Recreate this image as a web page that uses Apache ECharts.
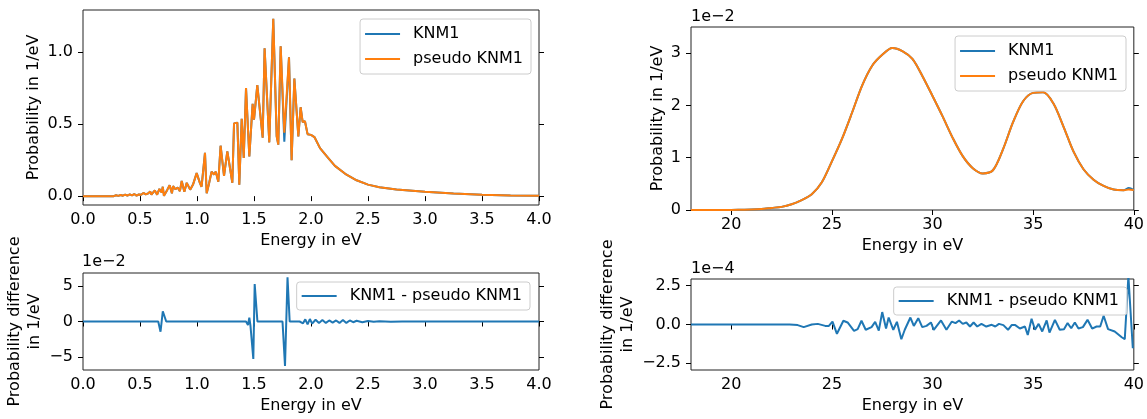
<!DOCTYPE html>
<html>
<head>
<meta charset="utf-8">
<script src="https://cdn.jsdelivr.net/npm/echarts@6/dist/echarts.min.js"></script>
<style>
  html, body { margin: 0; padding: 0; background: #fff; }
  #chart { width: 1147px; height: 419px; }
</style>
</head>
<body>
<div id="chart"></div>
<script>
// ---- Energy-loss function, 0-4 eV (probability in 1/eV) ----
const lowEnergy = [
  0.00, 0.10, 0.20, 0.27, 0.29, 0.31, 0.33, 0.35, 0.37, 0.39, 0.41, 0.43, 0.45, 0.47, 0.49,
  0.51, 0.53, 0.55, 0.57, 0.59, 0.60, 0.63, 0.65, 0.67, 0.69, 0.70, 0.71, 0.74, 0.76, 0.78,
  0.79, 0.81, 0.83, 0.85, 0.866, 0.889, 0.91, 0.94, 0.965, 0.997, 1.026, 1.04, 1.055, 1.07,
  1.085, 1.105, 1.128, 1.149, 1.165, 1.187, 1.207, 1.237, 1.266, 1.31, 1.325, 1.354, 1.371,
  1.392, 1.41, 1.43, 1.459, 1.488, 1.50, 1.529, 1.576, 1.593, 1.634, 1.669, 1.699, 1.713,
  1.734, 1.766, 1.807, 1.83, 1.854, 1.889, 1.909, 1.927, 1.947, 1.97, 2.00, 2.03, 2.079,
  2.15, 2.21, 2.30, 2.40, 2.50, 2.60, 2.75, 3.00, 3.25, 3.50, 3.75, 4.00
];
const lowKnm1 = [
  0, 0, 0, 0, 0.006, 0.002, 0.008, 0.003, 0.010, 0.004, 0.012, 0.005, 0.015, 0.003, 0.012,
  0.010, 0.022, 0.012, 0.018, 0.032, 0.010, 0.040, 0.010, 0.050, 0.025, 0.065, 0.002, 0.045, 0.075, 0.020,
  0.070, 0.048, 0.060, 0.035, 0.105, 0.030, 0.092, 0.045, 0.080, 0.160, 0.090, 0.065, 0.075, 0.300,
  0.020, 0.085, 0.170, 0.150, 0.170, 0.100, 0.350, 0.140, 0.310, 0.093, 0.505, 0.510, 0.080,
  0.536, 0.265, 0.750, 0.275, 0.640, 0.530, 0.770, 0.405, 1.026, 0.373, 1.230, 0.415, 0.357,
  1.040, 0.377, 0.963, 0.250, 0.816, 0.415, 0.617, 0.513, 0.520, 0.430, 0.425, 0.410, 0.333,
  0.265, 0.210, 0.155, 0.110, 0.080, 0.062, 0.046, 0.030, 0.018, 0.010, 0.005, 0.003
];
const lowPseudo = [
  0, 0, 0, 0, 0.006, 0.002, 0.008, 0.003, 0.010, 0.004, 0.012, 0.005, 0.015, 0.003, 0.012,
  0.010, 0.022, 0.012, 0.018, 0.032, 0.010, 0.040, 0.010, 0.050, 0.025, 0.065, 0.002, 0.045, 0.075, 0.020,
  0.070, 0.048, 0.060, 0.035, 0.105, 0.030, 0.092, 0.045, 0.080, 0.160, 0.090, 0.065, 0.075, 0.300,
  0.020, 0.085, 0.170, 0.150, 0.170, 0.100, 0.350, 0.140, 0.310, 0.093, 0.505, 0.510, 0.080,
  0.536, 0.265, 0.750, 0.275, 0.640, 0.530, 0.770, 0.405, 1.026, 0.373, 1.230, 0.415, 0.357,
  1.040, 0.440, 0.963, 0.250, 0.816, 0.415, 0.617, 0.513, 0.520, 0.430, 0.425, 0.410, 0.333,
  0.265, 0.210, 0.155, 0.110, 0.080, 0.062, 0.046, 0.030, 0.018, 0.010, 0.005, 0.003
];

// ---- Energy-loss function, 18-40 eV ----
const highEnergy = [
  18, 18.5, 19, 19.5, 20, 20.5, 21, 21.5, 22, 22.5, 23, 23.5, 24, 24.5, 25, 25.5, 26, 26.5,
  27, 27.5, 28, 28.5, 29, 29.5, 30, 30.5, 31, 31.5, 32, 32.5, 33, 33.5, 34, 34.5, 35, 35.5,
  36, 36.5, 37, 37.5, 38, 38.5, 39, 39.5, 39.75, 40
];
const highKnm1 = [
  0, 0, 0, 0, 0, 0.00005, 0.0001, 0.0002, 0.0004, 0.0006, 0.0011, 0.0019, 0.0030, 0.0053,
  0.0093, 0.0136, 0.0186, 0.0238, 0.0276, 0.0297, 0.0310, 0.0304, 0.0289, 0.0256, 0.0218,
  0.0179, 0.0138, 0.0103, 0.0080, 0.0070, 0.0076, 0.0116, 0.0168, 0.0208, 0.0224, 0.0225,
  0.0204, 0.0160, 0.0112, 0.0078, 0.0058, 0.0046, 0.0039, 0.0038, 0.0042, 0.0038
];
const highPseudo = [
  0, 0, 0, 0, 0, 0.00005, 0.0001, 0.0002, 0.0004, 0.0006, 0.0011, 0.0019, 0.0030, 0.0053,
  0.0093, 0.0136, 0.0186, 0.0238, 0.0276, 0.0297, 0.0310, 0.0304, 0.0289, 0.0256, 0.0218,
  0.0179, 0.0138, 0.0103, 0.0080, 0.0070, 0.0076, 0.0116, 0.0168, 0.0208, 0.0224, 0.0225,
  0.0204, 0.0160, 0.0112, 0.0078, 0.0058, 0.0046, 0.0039, 0.0038, 0.0039, 0.0038
];

// ---- KNM1 - pseudo KNM1, 0-4 eV ----
const lowDiffEnergy = [
  0, 0.66, 0.68, 0.70, 0.73, 1.43, 1.447, 1.459, 1.469, 1.494, 1.506, 1.53, 1.75, 1.772, 1.794,
  1.813, 1.90, 1.93, 1.95, 1.97, 1.99, 2.01, 2.04, 2.07, 2.10, 2.13, 2.16, 2.19, 2.22, 2.25,
  2.28, 2.31, 2.34, 2.37, 2.40, 2.45, 2.50, 2.55, 2.60, 2.70, 2.80, 4.00
];
const lowDiff = [
  0, 0, -0.0145, 0.0145, 0, 0, -0.005, 0.0055, -0.006, -0.053, 0.053, 0, 0, -0.063, 0.0625,
  0, 0, -0.0025, 0.003, -0.004, 0.0035, -0.003, 0.0025, -0.002, 0.002, -0.002, 0.0015, -0.0015, 0.0015, -0.002,
  0.002, -0.002, 0.0015, -0.001, 0.001, -0.001, 0.0008, -0.0005, 0.0005, -0.0003, 0, 0
];

// ---- KNM1 - pseudo KNM1, 18-40 eV ----
const highDiffEnergy = [
  18, 22.9, 23.3, 23.6, 24.0, 24.3, 24.67, 24.85, 25.03, 25.25, 25.57, 25.78, 26.1, 26.28, 26.47,
  26.68, 26.97, 27.15, 27.33, 27.5, 27.69, 27.82, 28.05, 28.23, 28.45, 28.62, 28.9, 29.07, 29.29,
  29.49, 29.7, 29.92, 30.06, 30.42, 30.69, 30.96, 31.14, 31.32, 31.5, 31.68, 31.86, 32.04, 32.22,
  32.43, 32.67, 32.94, 33.12, 33.3, 33.52, 33.75, 33.93, 34.11, 34.34, 34.59, 34.73, 34.92, 35.09,
  35.27, 35.45, 35.67, 35.81, 36.08, 36.32, 36.53, 36.71, 36.89, 37.07, 37.25, 37.47, 37.7, 37.93,
  38.15, 38.33, 38.5, 38.72, 39.05, 39.4, 39.55, 39.73, 39.95
];
const highDiff = [
  0, 0, -0.04e-4, -0.17e-4, 0, 0.04e-4, -0.09e-4, -0.09e-4, 0.19e-4, -0.6e-4, 0.24e-4, 0.13e-4, -0.41e-4, -0.3e-4, 0.24e-4,
  -0.34e-4, -0.17e-4, 0.17e-4, -0.39e-4, 0.8e-4, -0.26e-4, 0.45e-4, -0.34e-4, 0.17e-4, -0.95e-4, -0.34e-4, 0.45e-4, -0.09e-4, 0.41e-4,
  -0.17e-4, -0.09e-4, 0.13e-4, -0.34e-4, 0.26e-4, -0.34e-4, 0.19e-4, 0.09e-4, 0.26e-4, 0.04e-4, 0.13e-4, -0.13e-4, 0.13e-4, -0.13e-4,
  0.04e-4, -0.13e-4, -0.02e-4, -0.13e-4, 0.04e-4, -0.04e-4, -0.34e-4, -0.04e-4, -0.04e-4, -0.26e-4, -0.13e-4, -0.67e-4, 0.37e-4, -0.34e-4,
  0.04e-4, -0.45e-4, 0.26e-4, -0.52e-4, 0.3e-4, -0.34e-4, -0.3e-4, 0.09e-4, -0.24e-4, 0.13e-4, -0.26e-4, -0.17e-4, 0.3e-4, -0.26e-4,
  -0.13e-4, -0.13e-4, 0.56e-4, -0.3e-4, -0.45e-4, -0.82e-4, -0.95e-4, 3.1e-4, -1.53e-4
];

// Tick positions
const lowEnergyTicks = [0, 0.5, 1.0, 1.5, 2.0, 2.5, 3.0, 3.5, 4.0];
const highEnergyTicks = [20, 25, 30, 35, 40];
const lowProbTicks = [0, 0.5, 1.0];
const highProbTicks = [0, 0.01, 0.02, 0.03];
const lowDiffTicks = [-0.05, 0, 0.05];
const highDiffTicks = [-2.5e-4, 0, 2.5e-4];

const FONT = 'DejaVu Sans';
const BLUE = '#1f77b4';
const ORANGE = '#ff7f0e';
const MINUS = '\u2212';

const zip = (xs, ys) => xs.map((x, i) => [x, ys[i]]);
const signed = s => s.replace('-', MINUS);

const labelStyle = { color: '#000', fontSize: 16, fontFamily: FONT };

function xAxisFor(grid, min, max, ticks, fmt) {
  return {
    type: 'value', gridIndex: grid, min: min, max: max,
    name: 'Energy in eV', nameLocation: 'middle', nameGap: 28,
    nameTextStyle: labelStyle,
    axisLine: { show: false },
    axisTick: { show: true, inside: false, length: 5, customValues: ticks, lineStyle: { color: '#000', width: 1 } },
    axisLabel: Object.assign({ margin: 7, customValues: ticks, formatter: fmt }, labelStyle),
    splitLine: { show: false }
  };
}

function yAxisFor(grid, min, max, ticks, fmt, name, nameGap, lineHeight) {
  return {
    type: 'value', gridIndex: grid, min: min, max: max, position: 'left',
    name: name, nameLocation: 'middle', nameGap: nameGap,
    nameTextStyle: Object.assign({ lineHeight: lineHeight, align: 'center' }, labelStyle),
    axisLine: { show: false },
    axisTick: { show: true, inside: false, length: 5, customValues: ticks, lineStyle: { color: '#000', width: 1 } },
    axisLabel: Object.assign({ margin: 10, customValues: ticks, formatter: fmt }, labelStyle),
    splitLine: { show: false }
  };
}

function rightTicksFor(grid, min, max, ticks) {
  return {
    type: 'value', gridIndex: grid, min: min, max: max, position: 'right',
    axisLine: { show: false },
    axisTick: { show: true, inside: false, length: 5, customValues: ticks, lineStyle: { color: '#000', width: 1 } },
    axisLabel: { show: false },
    splitLine: { show: false }
  };
}

function legendFor(names, right, top) {
  return {
    data: names, orient: 'vertical', right: right, top: top,
    icon: 'rect', itemWidth: 35, itemHeight: 2, itemGap: 7,
    padding: [6, 8, 6, 5],
    backgroundColor: 'rgba(255,255,255,0.8)',
    borderColor: '#cccccc', borderWidth: 1, borderRadius: 3,
    textStyle: { color: '#000', fontSize: 16, fontFamily: FONT, lineHeight: 18, padding: [0, 0, 0, 8] }
  };
}

function line(name, x, y, data, color, z) {
  return {
    type: 'line', name: name, xAxisIndex: x, yAxisIndex: y, data: data,
    showSymbol: false, symbol: 'none', clip: true, z: z,
    lineStyle: { color: color, width: 2 }, itemStyle: { color: color }
  };
}

const gridBox = { show: true, borderColor: '#222', borderWidth: 1, backgroundColor: 'transparent' };

const option = {
  animation: false,
  backgroundColor: '#fff',
  grid: [
    Object.assign({ left: 83, top: 10, width: 456, height: 195 }, gridBox),
    Object.assign({ left: 691, top: 27, width: 443, height: 183 }, gridBox),
    Object.assign({ left: 83, top: 273, width: 456, height: 97 }, gridBox),
    Object.assign({ left: 691, top: 279, width: 443, height: 91 }, gridBox)
  ],
  xAxis: [
    xAxisFor(0, 0, 4, lowEnergyTicks, v => v.toFixed(1)),
    xAxisFor(1, 18, 40, highEnergyTicks, v => String(v)),
    xAxisFor(2, 0, 4, lowEnergyTicks, v => v.toFixed(1)),
    xAxisFor(3, 18, 40, highEnergyTicks, v => String(v))
  ],
  yAxis: [
    yAxisFor(0, -0.0615, 1.2915, lowProbTicks, v => v.toFixed(1), 'Probability in 1/eV', 40, 18),
    rightTicksFor(0, -0.0615, 1.2915, lowProbTicks),
    yAxisFor(1, 0, 0.035, highProbTicks, v => String(Math.round(v * 100)), 'Probability in 1/eV', 23, 18),
    rightTicksFor(1, 0, 0.035, highProbTicks),
    yAxisFor(2, -0.0686, 0.0686, lowDiffTicks, v => signed(String(Math.round(v * 100))), 'Probability difference\nin 1/eV', 33, 20.4),
    rightTicksFor(2, -0.0686, 0.0686, lowDiffTicks),
    yAxisFor(3, -2.93e-4, 2.93e-4, highDiffTicks, v => signed((v * 1e4).toFixed(1)), 'Probability difference\nin 1/eV', 47, 20.4),
    rightTicksFor(3, -2.93e-4, 2.93e-4, highDiffTicks)
  ],
  legend: [
    legendFor(['KNM1', 'pseudo KNM1'], 616, 19),
    legendFor(['KNM1', 'pseudo KNM1'], 21, 36),
    Object.assign(legendFor(['KNM1 - pseudo KNM1'], 617, 282), { padding: [5, 8, 5, 5] }),
    Object.assign(legendFor(['KNM1 - pseudo KNM1'], 20, 287), { padding: [5, 8, 5, 5] })
  ],
  graphic: [
    { type: 'text', left: 691, top: 9, style: { text: '1e' + MINUS + '2', fill: '#000', font: '16px "DejaVu Sans"' } },
    { type: 'text', left: 82, top: 254, style: { text: '1e' + MINUS + '2', fill: '#000', font: '16px "DejaVu Sans"' } },
    { type: 'text', left: 691, top: 261, style: { text: '1e' + MINUS + '4', fill: '#000', font: '16px "DejaVu Sans"' } }
  ],
  series: [
    line('KNM1', 0, 0, zip(lowEnergy, lowKnm1), BLUE, 2),
    line('pseudo KNM1', 0, 0, zip(lowEnergy, lowPseudo), ORANGE, 3),
    line('KNM1', 1, 2, zip(highEnergy, highKnm1), BLUE, 2),
    line('pseudo KNM1', 1, 2, zip(highEnergy, highPseudo), ORANGE, 3),
    line('KNM1 - pseudo KNM1', 2, 4, zip(lowDiffEnergy, lowDiff), BLUE, 2),
    line('KNM1 - pseudo KNM1', 3, 6, zip(highDiffEnergy, highDiff), BLUE, 2)
  ]
};

// the high-energy curves are sampled every 0.5 eV; draw them as smooth curves
option.series[2].smooth = 0.3;
option.series[3].smooth = 0.3;

const chart = echarts.init(document.getElementById('chart'), null, { renderer: 'canvas' });
chart.setOption(option);
</script>
</body>
</html>
